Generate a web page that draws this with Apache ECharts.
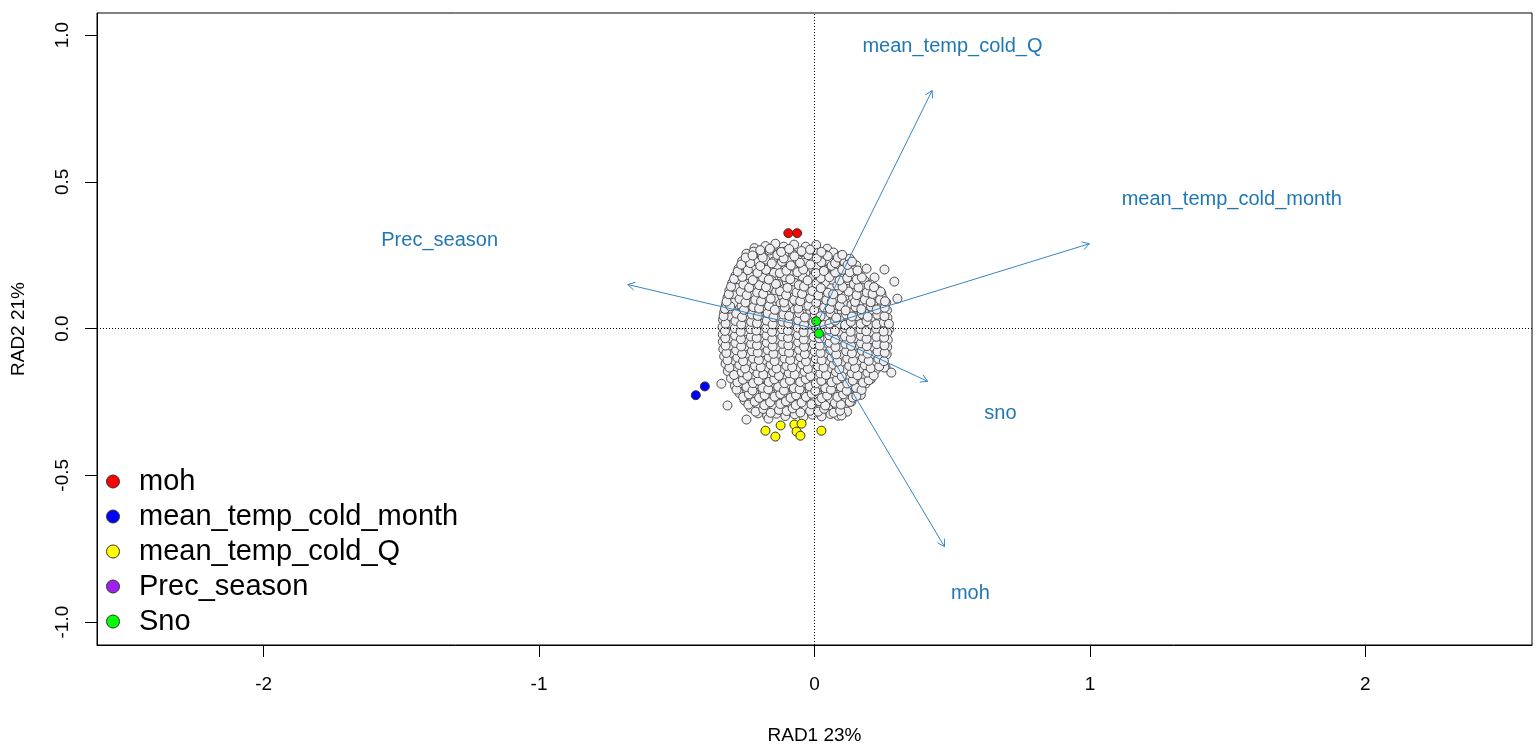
<!DOCTYPE html>
<html>
<head>
<meta charset="utf-8">
<title>RDA biplot</title>
<script src="https://cdn.jsdelivr.net/npm/echarts@6/dist/echarts.min.js"></script>
<style>
  html, body { margin: 0; padding: 0; background: #fff; }
  #chart { width: 1539px; height: 747px; }
</style>
</head>
<body>
<div id="chart"></div>
<script>
// ---- site scores (RAD1, RAD2) ----
const siteScores = [
  [-0.218,0.274],[-0.178,0.281],[-0.142,0.289],[-0.112,0.279],[-0.074,0.286],[-0.032,0.279],[0.006,0.285],[0.046,0.272],
  [-0.247,0.255],[-0.221,0.262],[-0.192,0.251],[-0.163,0.266],[-0.131,0.257],[-0.104,0.263],[-0.077,0.252],[-0.046,0.260],[-0.018,0.249],[0.013,0.258],[0.041,0.251],[0.069,0.259],[0.094,0.248],
  [-0.263,0.229],[-0.236,0.238],[-0.205,0.226],[-0.178,0.235],[-0.149,0.228],[-0.121,0.240],[-0.090,0.230],[-0.062,0.236],[-0.034,0.224],[-0.003,0.233],[0.027,0.241],[0.054,0.228],[0.083,0.236],[0.109,0.225],[0.128,0.238],
  [0.152,0.215],[0.189,0.204],[0.254,0.201],[0.218,0.174],[0.290,0.160],[0.243,0.119],[0.301,0.102],
  [-0.276,0.204],[-0.250,0.212],[-0.221,0.200],[-0.193,0.210],[-0.163,0.203],[-0.136,0.214],[-0.107,0.201],[-0.079,0.209],[-0.049,0.198],[-0.021,0.207],[0.008,0.213],[0.036,0.200],[0.065,0.210],[0.093,0.202],[0.121,0.211],[0.146,0.199],
  [-0.287,0.180],[-0.259,0.188],[-0.232,0.177],[-0.204,0.186],[-0.176,0.179],[-0.147,0.190],[-0.119,0.176],[-0.090,0.185],[-0.062,0.181],[-0.033,0.189],[-0.005,0.175],[0.024,0.184],[0.052,0.179],[0.081,0.188],[0.109,0.176],[0.137,0.186],[0.163,0.181],
  [-0.299,0.155],[-0.271,0.163],[-0.242,0.152],[-0.215,0.161],[-0.186,0.154],[-0.157,0.165],[-0.130,0.151],[-0.101,0.160],[-0.073,0.156],[-0.044,0.164],[-0.016,0.150],[0.012,0.159],[0.041,0.153],[0.069,0.162],[0.098,0.151],[0.126,0.160],[0.155,0.155],[0.182,0.163],[0.203,0.150],
  [-0.309,0.130],[-0.281,0.138],[-0.253,0.127],[-0.224,0.136],[-0.196,0.129],[-0.167,0.140],[-0.139,0.126],[-0.110,0.135],[-0.082,0.131],[-0.053,0.139],[-0.025,0.125],[0.004,0.134],[0.032,0.128],[0.061,0.137],[0.089,0.126],[0.118,0.135],[0.146,0.130],[0.175,0.138],[0.203,0.125],[0.226,0.134],
  [-0.316,0.105],[-0.288,0.113],[-0.259,0.102],[-0.231,0.111],[-0.202,0.104],[-0.174,0.115],[-0.145,0.101],[-0.117,0.110],[-0.088,0.106],[-0.060,0.114],[-0.031,0.100],[-0.003,0.109],[0.026,0.103],[0.054,0.112],[0.083,0.101],[0.111,0.110],[0.140,0.105],[0.168,0.113],[0.197,0.100],[0.223,0.109],[0.247,0.104],
  [-0.322,0.080],[-0.294,0.088],[-0.265,0.077],[-0.237,0.086],[-0.208,0.079],[-0.180,0.090],[-0.151,0.076],[-0.123,0.085],[-0.094,0.081],[-0.066,0.089],[-0.037,0.075],[-0.009,0.084],[0.020,0.078],[0.048,0.087],[0.077,0.076],[0.105,0.085],[0.134,0.080],[0.162,0.088],[0.191,0.075],[0.219,0.084],[0.245,0.079],[0.260,0.089],
  [-0.328,0.055],[-0.300,0.063],[-0.271,0.052],[-0.243,0.061],[-0.214,0.054],[-0.186,0.065],[-0.157,0.051],[-0.129,0.060],[-0.100,0.056],[-0.072,0.064],[-0.043,0.050],[-0.015,0.059],[0.014,0.053],[0.042,0.062],[0.071,0.051],[0.099,0.060],[0.128,0.055],[0.156,0.063],[0.185,0.050],[0.213,0.059],[0.240,0.054],[0.263,0.062],
  [-0.332,0.030],[-0.305,0.038],[-0.276,0.027],[-0.248,0.036],[-0.219,0.029],[-0.191,0.040],[-0.162,0.026],[-0.134,0.035],[-0.105,0.031],[-0.077,0.039],[-0.048,0.025],[-0.020,0.034],[0.009,0.028],[0.037,0.037],[0.066,0.026],[0.094,0.035],[0.123,0.030],[0.151,0.038],[0.180,0.025],[0.208,0.034],[0.236,0.029],[0.265,0.037],
  [-0.334,0.005],[-0.307,0.013],[-0.279,0.002],[-0.250,0.011],[-0.222,0.004],[-0.193,0.015],[-0.165,0.001],[-0.136,0.010],[-0.108,0.006],[-0.079,0.014],[-0.051,0.000],[-0.022,0.009],[0.006,0.003],[0.035,0.012],[0.063,0.001],[0.092,0.010],[0.120,0.005],[0.149,0.013],[0.177,0.000],[0.206,0.009],[0.234,0.004],[0.262,0.012],[0.271,-0.002],
  [-0.333,-0.020],[-0.305,-0.012],[-0.277,-0.023],[-0.248,-0.014],[-0.220,-0.021],[-0.191,-0.010],[-0.163,-0.024],[-0.134,-0.015],[-0.106,-0.019],[-0.077,-0.011],[-0.049,-0.025],[-0.020,-0.016],[0.008,-0.022],[0.037,-0.013],[0.065,-0.024],[0.094,-0.015],[0.122,-0.020],[0.151,-0.012],[0.179,-0.025],[0.208,-0.016],[0.236,-0.021],[0.264,-0.013],
  [-0.333,-0.045],[-0.306,-0.037],[-0.278,-0.048],[-0.249,-0.039],[-0.221,-0.046],[-0.192,-0.035],[-0.164,-0.049],[-0.135,-0.040],[-0.107,-0.044],[-0.078,-0.036],[-0.050,-0.050],[-0.021,-0.041],[0.007,-0.047],[0.036,-0.038],[0.064,-0.049],[0.093,-0.040],[0.121,-0.045],[0.150,-0.037],[0.178,-0.050],[0.207,-0.041],[0.235,-0.046],[0.266,-0.038],
  [-0.331,-0.070],[-0.303,-0.062],[-0.275,-0.073],[-0.246,-0.064],[-0.218,-0.071],[-0.189,-0.060],[-0.161,-0.074],[-0.132,-0.065],[-0.104,-0.069],[-0.075,-0.061],[-0.047,-0.075],[-0.018,-0.066],[0.010,-0.072],[0.039,-0.063],[0.067,-0.074],[0.096,-0.065],[0.124,-0.070],[0.153,-0.062],[0.181,-0.075],[0.210,-0.066],[0.238,-0.071],[0.264,-0.063],
  [-0.328,-0.095],[-0.300,-0.087],[-0.272,-0.098],[-0.243,-0.089],[-0.215,-0.096],[-0.186,-0.085],[-0.158,-0.099],[-0.129,-0.090],[-0.101,-0.094],[-0.072,-0.086],[-0.044,-0.100],[-0.015,-0.091],[0.013,-0.097],[0.042,-0.088],[0.070,-0.099],[0.099,-0.090],[0.127,-0.095],[0.156,-0.087],[0.184,-0.100],[0.213,-0.091],[0.240,-0.096],[0.262,-0.088],
  [-0.323,-0.120],[-0.295,-0.112],[-0.267,-0.123],[-0.238,-0.114],[-0.210,-0.121],[-0.181,-0.110],[-0.153,-0.124],[-0.124,-0.115],[-0.096,-0.119],[-0.067,-0.111],[-0.039,-0.125],[-0.010,-0.116],[0.018,-0.122],[0.047,-0.113],[0.075,-0.124],[0.104,-0.115],[0.132,-0.120],[0.161,-0.112],[0.189,-0.125],[0.217,-0.116],[0.241,-0.121],[0.258,-0.131],
  [-0.315,-0.145],[-0.287,-0.137],[-0.259,-0.148],[-0.230,-0.139],[-0.202,-0.146],[-0.173,-0.135],[-0.145,-0.149],[-0.116,-0.140],[-0.088,-0.144],[-0.059,-0.136],[-0.031,-0.150],[-0.002,-0.141],[0.026,-0.147],[0.055,-0.138],[0.083,-0.149],[0.112,-0.140],[0.140,-0.145],[0.169,-0.137],[0.197,-0.150],[0.222,-0.141],[0.254,-0.133],[0.279,-0.150],
  [-0.303,-0.170],[-0.275,-0.162],[-0.247,-0.173],[-0.218,-0.164],[-0.190,-0.171],[-0.161,-0.160],[-0.133,-0.174],[-0.104,-0.165],[-0.076,-0.169],[-0.047,-0.161],[-0.019,-0.175],[0.010,-0.166],[0.038,-0.172],[0.067,-0.163],[0.095,-0.174],[0.124,-0.165],[0.152,-0.170],[0.180,-0.162],[0.204,-0.173],
  [-0.338,-0.188],[-0.289,-0.195],[-0.262,-0.187],[-0.234,-0.198],[-0.205,-0.189],[-0.177,-0.196],[-0.148,-0.185],[-0.120,-0.199],[-0.091,-0.190],[-0.063,-0.194],[-0.034,-0.186],[-0.006,-0.200],[0.023,-0.191],[0.051,-0.197],[0.080,-0.188],[0.108,-0.199],[0.137,-0.190],[0.163,-0.195],[0.186,-0.187],
  [-0.272,-0.220],[-0.244,-0.212],[-0.216,-0.223],[-0.187,-0.214],[-0.159,-0.221],[-0.130,-0.210],[-0.102,-0.224],[-0.073,-0.215],[-0.045,-0.219],[-0.016,-0.211],[0.012,-0.225],[0.041,-0.216],[0.069,-0.222],[0.098,-0.213],[0.126,-0.224],[0.152,-0.215],[0.168,-0.226],
  [-0.254,-0.245],[-0.226,-0.237],[-0.198,-0.248],[-0.169,-0.239],[-0.141,-0.246],[-0.112,-0.235],[-0.084,-0.249],[-0.055,-0.240],[-0.027,-0.244],[0.002,-0.236],[0.030,-0.250],[0.059,-0.241],[0.087,-0.247],[0.114,-0.238],[0.134,-0.249],
  [-0.316,-0.262],[-0.232,-0.270],[-0.204,-0.262],[-0.176,-0.273],[-0.147,-0.264],[-0.119,-0.271],[-0.090,-0.260],[-0.062,-0.274],[-0.033,-0.265],[-0.005,-0.269],[0.024,-0.261],[0.052,-0.275],[0.081,-0.266],[0.108,-0.272],[0.118,-0.283],
  [-0.205,-0.289],[-0.172,-0.297],[-0.138,-0.290],[-0.106,-0.298],[-0.072,-0.292],[-0.040,-0.300],[-0.008,-0.293],[0.026,-0.299],[0.058,-0.291],[0.086,-0.297],
  [-0.247,-0.310],[-0.167,-0.307],[0.098,-0.296],
  // second sampling block, listed from the bottom of the cloud upwards
  [-0.214,-0.283],[-0.186,-0.274],[-0.159,-0.287],[-0.129,-0.277],[-0.101,-0.281],[-0.079,-0.272],[-0.051,-0.286],[-0.016,-0.280],[0.013,-0.283],[0.035,-0.273],[0.069,-0.287],[0.093,-0.280],
  [-0.240,-0.259],[-0.217,-0.249],[-0.182,-0.261],[-0.161,-0.251],[-0.124,-0.257],[-0.104,-0.248],[-0.068,-0.261],[-0.047,-0.252],[-0.011,-0.258],[0.017,-0.247],[0.039,-0.262],[0.074,-0.253],[0.096,-0.259],[0.128,-0.250],
  [-0.259,-0.233],[-0.238,-0.224],[-0.201,-0.236],[-0.181,-0.227],[-0.145,-0.232],[-0.124,-0.223],[-0.087,-0.236],[-0.067,-0.227],[-0.031,-0.233],[-0.010,-0.222],[0.026,-0.237],[0.046,-0.228],[0.083,-0.233],[0.104,-0.224],[0.139,-0.235],[0.152,-0.230],
  [-0.283,-0.208],[-0.247,-0.199],[-0.225,-0.211],[-0.189,-0.202],[-0.168,-0.207],[-0.132,-0.198],[-0.111,-0.211],[-0.075,-0.203],[-0.054,-0.207],[-0.018,-0.197],[0.003,-0.212],[0.039,-0.203],[0.060,-0.208],[0.096,-0.199],[0.117,-0.212],[0.151,-0.202],[0.171,-0.209],
  [-0.280,-0.183],[-0.260,-0.174],[-0.223,-0.186],[-0.203,-0.177],[-0.166,-0.182],[-0.146,-0.173],[-0.109,-0.186],[-0.089,-0.177],[-0.052,-0.182],[-0.032,-0.172],[0.005,-0.187],[0.025,-0.178],[0.062,-0.183],[0.082,-0.174],[0.119,-0.187],[0.139,-0.177],[0.176,-0.184],[0.197,-0.176],
  [-0.292,-0.158],[-0.264,-0.149],[-0.243,-0.161],[-0.207,-0.152],[-0.186,-0.157],[-0.150,-0.148],[-0.129,-0.161],[-0.093,-0.152],[-0.072,-0.157],[-0.036,-0.147],[-0.015,-0.162],[0.021,-0.153],[0.042,-0.158],[0.078,-0.148],[0.099,-0.163],[0.135,-0.152],[0.156,-0.159],[0.192,-0.150],[0.215,-0.160],
  [-0.309,-0.133],[-0.273,-0.124],[-0.252,-0.136],[-0.216,-0.127],[-0.195,-0.132],[-0.159,-0.123],[-0.138,-0.136],[-0.102,-0.127],[-0.081,-0.132],[-0.045,-0.122],[-0.024,-0.137],[0.012,-0.128],[0.033,-0.133],[0.069,-0.123],[0.090,-0.138],[0.126,-0.127],[0.147,-0.134],[0.183,-0.125],[0.204,-0.135],[0.235,-0.129],
  [-0.316,-0.108],[-0.280,-0.099],[-0.259,-0.111],[-0.223,-0.102],[-0.202,-0.107],[-0.166,-0.098],[-0.145,-0.111],[-0.109,-0.102],[-0.088,-0.107],[-0.052,-0.097],[-0.031,-0.112],[0.005,-0.103],[0.026,-0.108],[0.062,-0.098],[0.083,-0.113],[0.119,-0.102],[0.140,-0.109],[0.176,-0.100],[0.197,-0.110],[0.232,-0.103],[0.252,-0.111],
  [-0.320,-0.083],[-0.284,-0.074],[-0.263,-0.086],[-0.227,-0.077],[-0.206,-0.082],[-0.170,-0.073],[-0.149,-0.086],[-0.113,-0.077],[-0.092,-0.082],[-0.056,-0.072],[-0.035,-0.087],[0.001,-0.078],[0.022,-0.083],[0.058,-0.073],[0.079,-0.088],[0.115,-0.077],[0.136,-0.084],[0.172,-0.075],[0.193,-0.085],[0.229,-0.078],[0.255,-0.082],
  [-0.323,-0.058],[-0.287,-0.049],[-0.266,-0.061],[-0.230,-0.052],[-0.209,-0.057],[-0.173,-0.048],[-0.152,-0.061],[-0.116,-0.052],[-0.095,-0.057],[-0.059,-0.047],[-0.038,-0.062],[-0.002,-0.053],[0.019,-0.058],[0.055,-0.048],[0.076,-0.063],[0.112,-0.052],[0.133,-0.059],[0.169,-0.050],[0.190,-0.060],[0.226,-0.053],[0.254,-0.057],
  [-0.324,-0.033],[-0.288,-0.024],[-0.267,-0.036],[-0.231,-0.027],[-0.210,-0.032],[-0.174,-0.023],[-0.153,-0.036],[-0.117,-0.027],[-0.096,-0.032],[-0.060,-0.022],[-0.039,-0.037],[-0.003,-0.028],[0.018,-0.033],[0.054,-0.023],[0.075,-0.038],[0.111,-0.027],[0.132,-0.034],[0.168,-0.025],[0.189,-0.035],[0.225,-0.028],[0.253,-0.031],
  [-0.325,-0.008],[-0.289,0.001],[-0.268,-0.011],[-0.232,-0.002],[-0.211,-0.007],[-0.175,0.002],[-0.154,-0.011],[-0.118,-0.002],[-0.097,-0.007],[-0.061,0.003],[-0.040,-0.012],[0.053,-0.003],[0.074,-0.008],[0.110,0.002],[0.131,-0.011],[0.167,-0.002],[0.188,-0.009],[0.224,0.000],[0.251,-0.010],
  [-0.323,0.017],[-0.287,0.026],[-0.266,0.014],[-0.230,0.023],[-0.209,0.018],[-0.173,0.027],[-0.152,0.014],[-0.116,0.023],[-0.095,0.018],[-0.059,0.028],[-0.038,0.013],[-0.004,0.022],[0.054,0.017],[0.075,0.027],[0.111,0.012],[0.132,0.023],[0.168,0.016],[0.189,0.025],[0.225,0.015],[0.252,0.021],[0.270,0.016],
  [-0.330,0.042],[-0.284,0.051],[-0.263,0.039],[-0.227,0.048],[-0.206,0.043],[-0.170,0.052],[-0.149,0.039],[-0.113,0.048],[-0.092,0.043],[-0.056,0.053],[-0.035,0.038],[0.001,0.047],[0.022,0.042],[0.058,0.052],[0.079,0.037],[0.115,0.048],[0.136,0.041],[0.172,0.050],[0.193,0.040],[0.228,0.047],[0.254,0.042],
  [-0.325,0.067],[-0.306,0.076],[-0.256,0.064],[-0.222,0.073],[-0.201,0.068],[-0.165,0.077],[-0.144,0.064],[-0.108,0.073],[-0.059,0.068],[-0.022,0.078],[-0.001,0.063],[0.035,0.072],[0.056,0.067],[0.092,0.077],[0.113,0.062],[0.149,0.073],[0.170,0.066],[0.205,0.075],[0.226,0.065],[0.255,0.071],
  [-0.319,0.092],[-0.272,0.101],[-0.251,0.089],[-0.215,0.098],[-0.194,0.093],[-0.159,0.102],[-0.111,0.089],[-0.074,0.098],[-0.052,0.093],[-0.016,0.103],[0.006,0.088],[0.043,0.097],[0.063,0.092],[0.099,0.102],[0.147,0.091],[0.183,0.099],[0.204,0.090],[0.238,0.098],[0.256,0.093],
  [-0.311,0.117],[-0.268,0.126],[-0.246,0.114],[-0.208,0.123],[-0.186,0.118],[-0.125,0.127],[-0.103,0.114],[-0.065,0.123],[-0.045,0.118],[-0.008,0.128],[0.014,0.113],[0.049,0.122],[0.068,0.117],[0.124,0.126],[0.153,0.114],[0.190,0.123],[0.211,0.118],[0.240,0.126],
  [-0.303,0.143],[-0.258,0.150],[-0.237,0.139],[-0.201,0.148],[-0.176,0.141],[-0.140,0.152],[-0.098,0.139],[-0.057,0.148],[-0.038,0.143],[0.007,0.153],[0.023,0.138],[0.083,0.147],[0.102,0.142],[0.143,0.151],[0.160,0.140],[0.197,0.147],[0.216,0.141],
  [-0.292,0.169],[-0.262,0.176],[-0.224,0.165],[-0.187,0.174],[-0.166,0.167],[-0.107,0.175],[-0.088,0.168],[-0.043,0.177],[-0.025,0.164],[0.023,0.172],[0.054,0.175],[0.091,0.164],[0.119,0.173],[0.153,0.167],[0.172,0.174],
  [-0.279,0.194],[-0.242,0.199],[-0.207,0.190],[-0.176,0.200],[-0.126,0.189],[-0.102,0.197],[-0.062,0.192],[-0.041,0.201],[0.005,0.189],[0.034,0.196],[0.075,0.191],[0.101,0.200],[0.128,0.192],[0.156,0.198],
  [-0.266,0.218],[-0.233,0.223],[-0.197,0.213],[-0.155,0.222],[-0.118,0.228],[-0.086,0.215],[-0.053,0.224],[-0.015,0.218],[0.025,0.226],[0.062,0.214],[0.075,0.223],[0.120,0.217],[0.136,0.228],
  [-0.250,0.242],[-0.225,0.249],[-0.188,0.242],[-0.135,0.251],[-0.112,0.239],[-0.073,0.246],[-0.023,0.250],[0.008,0.239],[0.048,0.247],[0.085,0.242],[0.101,0.251],
  [-0.197,0.267],[-0.162,0.272],[-0.121,0.261],[-0.092,0.271],[-0.047,0.264],[-0.016,0.269],[0.025,0.261]
];

// ---- highlighted sites, one group per variable ----
const groupNames  = ['moh', 'mean_temp_cold_month', 'mean_temp_cold_Q', 'Prec_season', 'Sno'];
const groupColors = ['#ff0000', '#0000ff', '#ffff00', '#a020f0', '#00ff00'];
const mohSites   = [[-0.095,0.325],[-0.063,0.325]];
const coldMonthSites = [[-0.398,-0.197],[-0.431,-0.227]];
const coldQSites = [[-0.178,-0.348],[-0.142,-0.368],[-0.123,-0.330],[-0.073,-0.327],[-0.047,-0.324],[-0.065,-0.351],[-0.051,-0.365],[0.025,-0.348]];
const precSites  = [];
const snoSites   = [[0.006,0.025],[0.016,-0.017]];
const groupSites = [mohSites, coldMonthSites, coldQSites, precSites, snoSites];

// ---- environmental vectors ----
const envNames  = ['mean_temp_cold_Q', 'mean_temp_cold_month', 'Prec_season', 'sno', 'moh'];
const envX      = [0.427, 0.998, -0.678, 0.411, 0.472];
const envY      = [0.811, 0.289, 0.150, -0.180, -0.743];
const envLabelX = [0.501, 1.515, -1.361, 0.675, 0.566];
const envLabelY = [0.961, 0.440, 0.300, -0.290, -0.903];

// ---- axes ----
const xTicks = [-2, -1, 0, 1, 2];
const yTicks = [-1, -0.5, 0, 0.5, 1];
const xTitle = 'RAD1 23%';
const yTitle = 'RAD2 21%';

const FONT = '"Liberation Sans", Arial, Helvetica, sans-serif';
const ARROW_COLOR = '#3686c4';
const LABEL_COLOR = '#1f77b4';

const chart = echarts.init(document.getElementById('chart'), null, { renderer: 'canvas' });

function renderArrow(params, api) {
  const o = api.coord([0, 0]);
  const t = api.coord([api.value(0), api.value(1)]);
  const ang = Math.atan2(t[1] - o[1], t[0] - o[0]);
  const L = 8, a = Math.PI / 6;
  const p1 = [t[0] - L * Math.cos(ang - a), t[1] - L * Math.sin(ang - a)];
  const p2 = [t[0] - L * Math.cos(ang + a), t[1] - L * Math.sin(ang + a)];
  return {
    type: 'group',
    children: [
      { type: 'line', shape: { x1: o[0], y1: o[1], x2: t[0], y2: t[1] },
        style: { stroke: ARROW_COLOR, lineWidth: 1 } },
      { type: 'polyline', shape: { points: [p1, t, p2] },
        style: { stroke: ARROW_COLOR, fill: null, lineWidth: 1 } }
    ]
  };
}

function renderEnvLabel(params, api) {
  const p = api.coord([api.value(0), api.value(1)]);
  return {
    type: 'text',
    x: p[0], y: p[1],
    style: {
      text: envNames[params.dataIndex],
      fill: LABEL_COLOR,
      font: '20px ' + FONT,
      align: 'center',
      verticalAlign: 'middle'
    }
  };
}

const series = [
  {
    // reference lines through the origin
    type: 'scatter',
    name: 'axes0',
    data: [],
    z: 1,
    silent: true,
    markLine: {
      silent: true,
      symbol: ['none', 'none'],
      label: { show: false },
      lineStyle: { color: '#000', width: 1, type: [1, 2] },
      emphasis: { disabled: true },
      animation: false,
      data: [{ xAxis: 0 }, { yAxis: 0 }]
    }
  },
  {
    type: 'scatter',
    name: 'sites',
    data: siteScores,
    symbol: 'circle',
    symbolSize: 9,
    z: 2,
    silent: true,
    itemStyle: { color: '#efeff3', borderColor: '#4a4a4a', borderWidth: 1, opacity: 1 }
  },
  {
    type: 'custom',
    name: 'vectors',
    data: envX.map((x, i) => [x, envY[i]]),
    renderItem: renderArrow,
    encode: { x: 0, y: 1 },
    z: 3,
    silent: true
  },
  {
    type: 'custom',
    name: 'vectorLabels',
    data: envLabelX.map((x, i) => [x, envLabelY[i]]),
    renderItem: renderEnvLabel,
    encode: { x: 0, y: 1 },
    z: 3,
    silent: true
  }
];

groupNames.forEach((name, i) => {
  series.push({
    type: 'scatter',
    name: name,
    data: groupSites[i],
    symbol: 'circle',
    symbolSize: 9,
    z: 4,
    silent: true,
    itemStyle: { color: groupColors[i], borderColor: '#333', borderWidth: 1, opacity: 1 }
  });
});

const option = {
  animation: false,
  backgroundColor: '#fff',
  textStyle: { fontFamily: FONT },
  grid: {
    left: 97, right: 7, top: 13, bottom: 102,
    outerBoundsMode: 'none',
    containLabel: false,
    show: true, borderColor: '#000', borderWidth: 1, backgroundColor: 'transparent'
  },
  xAxis: {
    type: 'value',
    min: -2.605, max: 2.605,
    name: xTitle,
    nameLocation: 'middle',
    nameGap: 81,
    nameTextStyle: { fontSize: 19, color: '#000', fontFamily: FONT },
    axisLine: { show: true, onZero: false, lineStyle: { color: '#000', width: 1 } },
    axisTick: { show: true, inside: false, length: 12, customValues: xTicks, lineStyle: { color: '#000', width: 1 } },
    axisLabel: { show: true, customValues: xTicks, margin: 30, fontSize: 19, color: '#000', fontFamily: FONT,
                 formatter: v => String(v) },
    splitLine: { show: false }
  },
  yAxis: {
    type: 'value',
    min: -1.078, max: 1.075,
    name: yTitle,
    nameLocation: 'middle',
    nameGap: 69,
    nameTextStyle: { fontSize: 19, color: '#000', fontFamily: FONT },
    axisLine: { show: true, onZero: false, lineStyle: { color: '#000', width: 1 } },
    axisTick: { show: true, inside: false, length: 12, customValues: yTicks, lineStyle: { color: '#000', width: 1 } },
    axisLabel: { show: true, customValues: yTicks, rotate: 90, margin: 25, fontSize: 19, color: '#000', fontFamily: FONT,
                 formatter: v => v.toFixed(1) },
    splitLine: { show: false }
  },
  legend: {
    data: groupNames,
    orient: 'vertical',
    left: 106,
    top: 467,
    padding: 0,
    itemWidth: 42,
    itemHeight: 13,
    itemGap: 6,
    icon: 'circle',
    selectedMode: false,
    itemStyle: { borderColor: '#333', borderWidth: 1 },
    textStyle: { fontSize: 29, color: '#000', fontFamily: FONT }
  },
  series: series
};

chart.setOption(option);
</script>
</body>
</html>
